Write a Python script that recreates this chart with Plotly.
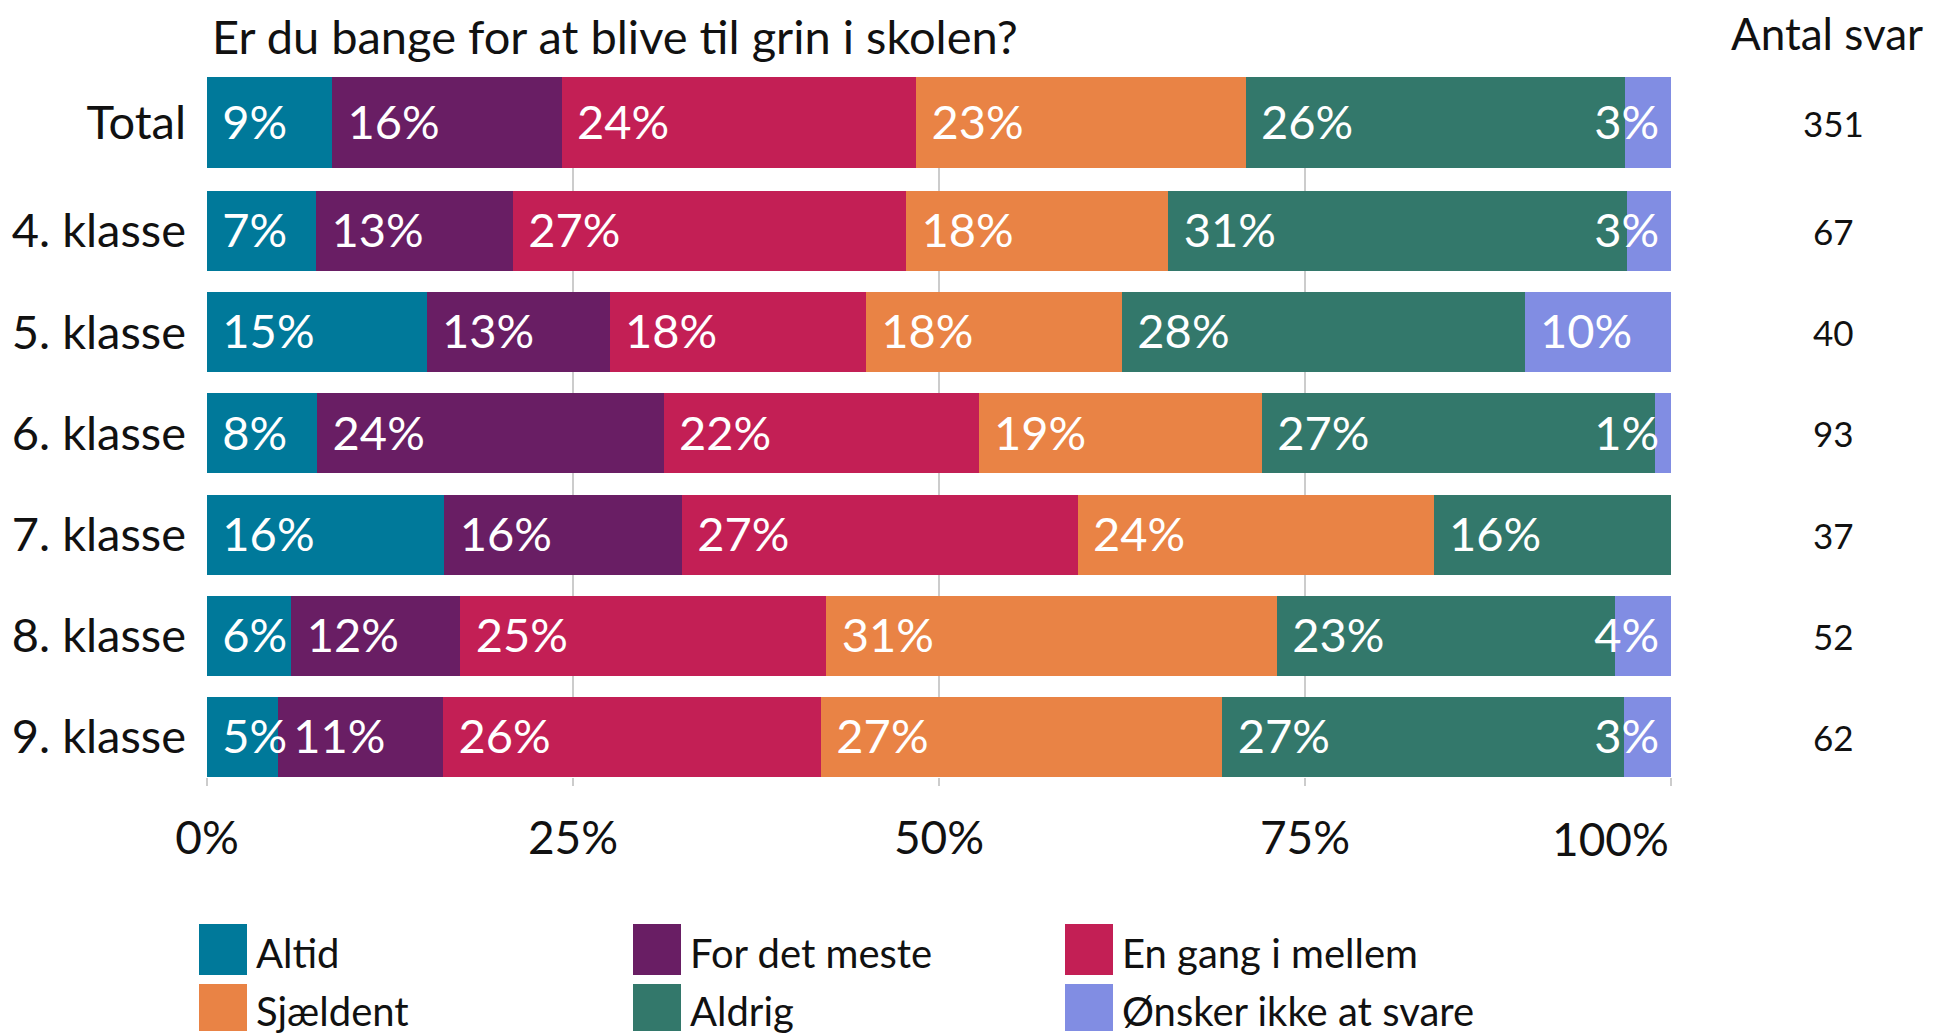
import math
import plotly.graph_objects as go

# ---------------- data ----------------
categories = ["Total", "4. klasse", "5. klasse", "6. klasse", "7. klasse", "8. klasse", "9. klasse"]
series_names = ["Altid", "For det meste", "En gang i mellem", "Sjældent", "Aldrig", "Ønsker ikke at svare"]
altid = [8.55, 7.46, 15.0, 7.53, 16.22, 5.77, 4.84]
for_det_meste = [15.67, 13.43, 12.5, 23.66, 16.22, 11.54, 11.29]
en_gang_i_mellem = [24.22, 26.87, 17.5, 21.51, 27.03, 25.0, 25.81]
sjaeldent = [22.51, 17.91, 17.5, 19.35, 24.32, 30.77, 27.42]
aldrig = [25.93, 31.34, 27.5, 26.88, 16.22, 23.08, 27.42]
onsker_ikke = [3.13, 2.99, 10.0, 1.08, 0.0, 3.85, 3.23]
antal_svar = [351, 67, 40, 93, 37, 52, 62]
x_tick_values = [0, 25, 50, 75, 100]
x_tick_labels = ["0%", "25%", "50%", "75%", "100%"]
title_text = "Er du bange for at blive til grin i skolen?"
count_header = "Antal svar"

colors = ["#00799A", "#691E64", "#C31F55", "#E98345", "#33786B", "#818DE3"]
series = [altid, for_det_meste, en_gang_i_mellem, sjaeldent, aldrig, onsker_ikke]

FONT = "Lato"
TXT = "#111111"

# page geometry (the html body adds an 8px margin)
OFF = 8
W, H = 1942 - OFF, 1034 - OFF
ML, MR, MT, MB = 207 - OFF, 271, 77 - OFF, 257
PW, PH = W - ML - MR, H - MT - MB


def py(page_pix):
    return (H - MB - (page_pix - OFF)) / PH


def px(page_pix):
    return ((page_pix - OFF) - ML) / PW


# y positions: Total separated a bit from the grades
n = len(categories)
ypos = [n - 1 + 0.07 if i == 0 else n - 1 - i for i in range(n)]
widths = [0.9 if i == 0 else 0.79 for i in range(n)]

fig = go.Figure()

# bars
for name, vals, col in zip(series_names, series, colors):
    fig.add_trace(go.Bar(
        y=ypos, x=vals, name=name, orientation="h", width=widths,
        marker=dict(color=col, line=dict(width=0)), showlegend=False,
        hovertemplate=name + ": %{x:.1f}%<extra></extra>",
    ))

# percentage labels
lab_x, lab_y, lab_t, lab_pos = [], [], [], []
for i in range(n):
    start = 0.0
    for s_idx, vals in enumerate(series):
        v = vals[i]
        if v > 0:
            txt = f"{int(math.floor(v + 0.5))}%"
            if s_idx == len(series) - 1 and v < 6:
                lab_x.append(100 - 0.8)
                lab_pos.append("middle left")
            else:
                lab_x.append(start + 1.05)
                lab_pos.append("middle right")
            lab_y.append(ypos[i] - 0.045)
            lab_t.append(txt)
        start += v
fig.add_trace(go.Scatter(
    x=lab_x, y=lab_y, text=lab_t, mode="text", textposition=lab_pos,
    textfont=dict(family=FONT, size=47, color="white"),
    showlegend=False, hoverinfo="skip", cliponaxis=False,
))

annotations = []
annotations.append(dict(text=title_text, xref="paper", yref="paper", x=px(210), y=py(36),
                        xanchor="left", yanchor="middle", showarrow=False,
                        font=dict(family=FONT, size=47, color=TXT)))
annotations.append(dict(text=count_header, xref="paper", yref="paper", x=px(1827), y=py(33),
                        xanchor="center", yanchor="middle", showarrow=False,
                        font=dict(family=FONT, size=44, color=TXT)))
for i in range(n):
    annotations.append(dict(text=str(antal_svar[i]), xref="paper", yref="y", x=px(1833), y=ypos[i],
                            xanchor="center", yanchor="middle", showarrow=False,
                            font=dict(family=FONT, size=35, color=TXT)))

# last x tick label is kept inside the plot's right edge, as in the original
annotations.append(dict(text=x_tick_labels[-1], xref="x", yref="paper", x=x_tick_values[-1], y=py(838),
                        xanchor="right", yanchor="middle", showarrow=False,
                        font=dict(family=FONT, size=46, color=TXT)))
axis_ticktext = x_tick_labels[:-1] + [""]

# legend (manual, two rows x three columns), page pixel positions
shapes = []
col_x = [199, 633, 1065]
row_y = [(924, 975), (984, 1031)]
for k, (name, col) in enumerate(zip(series_names, colors)):
    r, c = divmod(k, 3)
    x0, x1 = col_x[c], col_x[c] + 48
    y0, y1 = row_y[r]
    shapes.append(dict(type="rect", xref="paper", yref="paper", x0=px(x0), x1=px(x1),
                       y0=py(y1), y1=py(y0), fillcolor=col, line=dict(width=0)))
    annotations.append(dict(text=name, xref="paper", yref="paper", x=px(x1 + 7), y=py((y0 + y1) / 2 + 3),
                            xanchor="left", yanchor="middle", showarrow=False,
                            font=dict(family=FONT, size=40, color=TXT)))

fig.update_layout(
    width=W, height=H,
    margin=dict(l=ML, r=MR, t=MT, b=MB, autoexpand=False),
    barmode="stack", bargap=0,
    plot_bgcolor="white", paper_bgcolor="white",
    annotations=annotations, shapes=shapes,
    font=dict(family=FONT, color=TXT),
    xaxis=dict(range=[0, 100], tickvals=x_tick_values, ticktext=axis_ticktext,
               showgrid=True, gridcolor="#CCCCCC", gridwidth=2, zeroline=False,
               ticks="outside", ticklen=8, tickwidth=2, tickcolor="#CCCCCC",
               ticklabelstandoff=13, tickfont=dict(family=FONT, size=46, color=TXT),
               fixedrange=True, automargin=False),
    yaxis=dict(range=[-0.395, n - 1 + 0.07 + 0.45], tickvals=ypos, ticktext=categories,
               showgrid=False, zeroline=False, ticks="", ticklabelstandoff=20,
               tickfont=dict(family=FONT, size=47, color=TXT), fixedrange=True,
               automargin=False),
)

fig.write_html("out.html")
